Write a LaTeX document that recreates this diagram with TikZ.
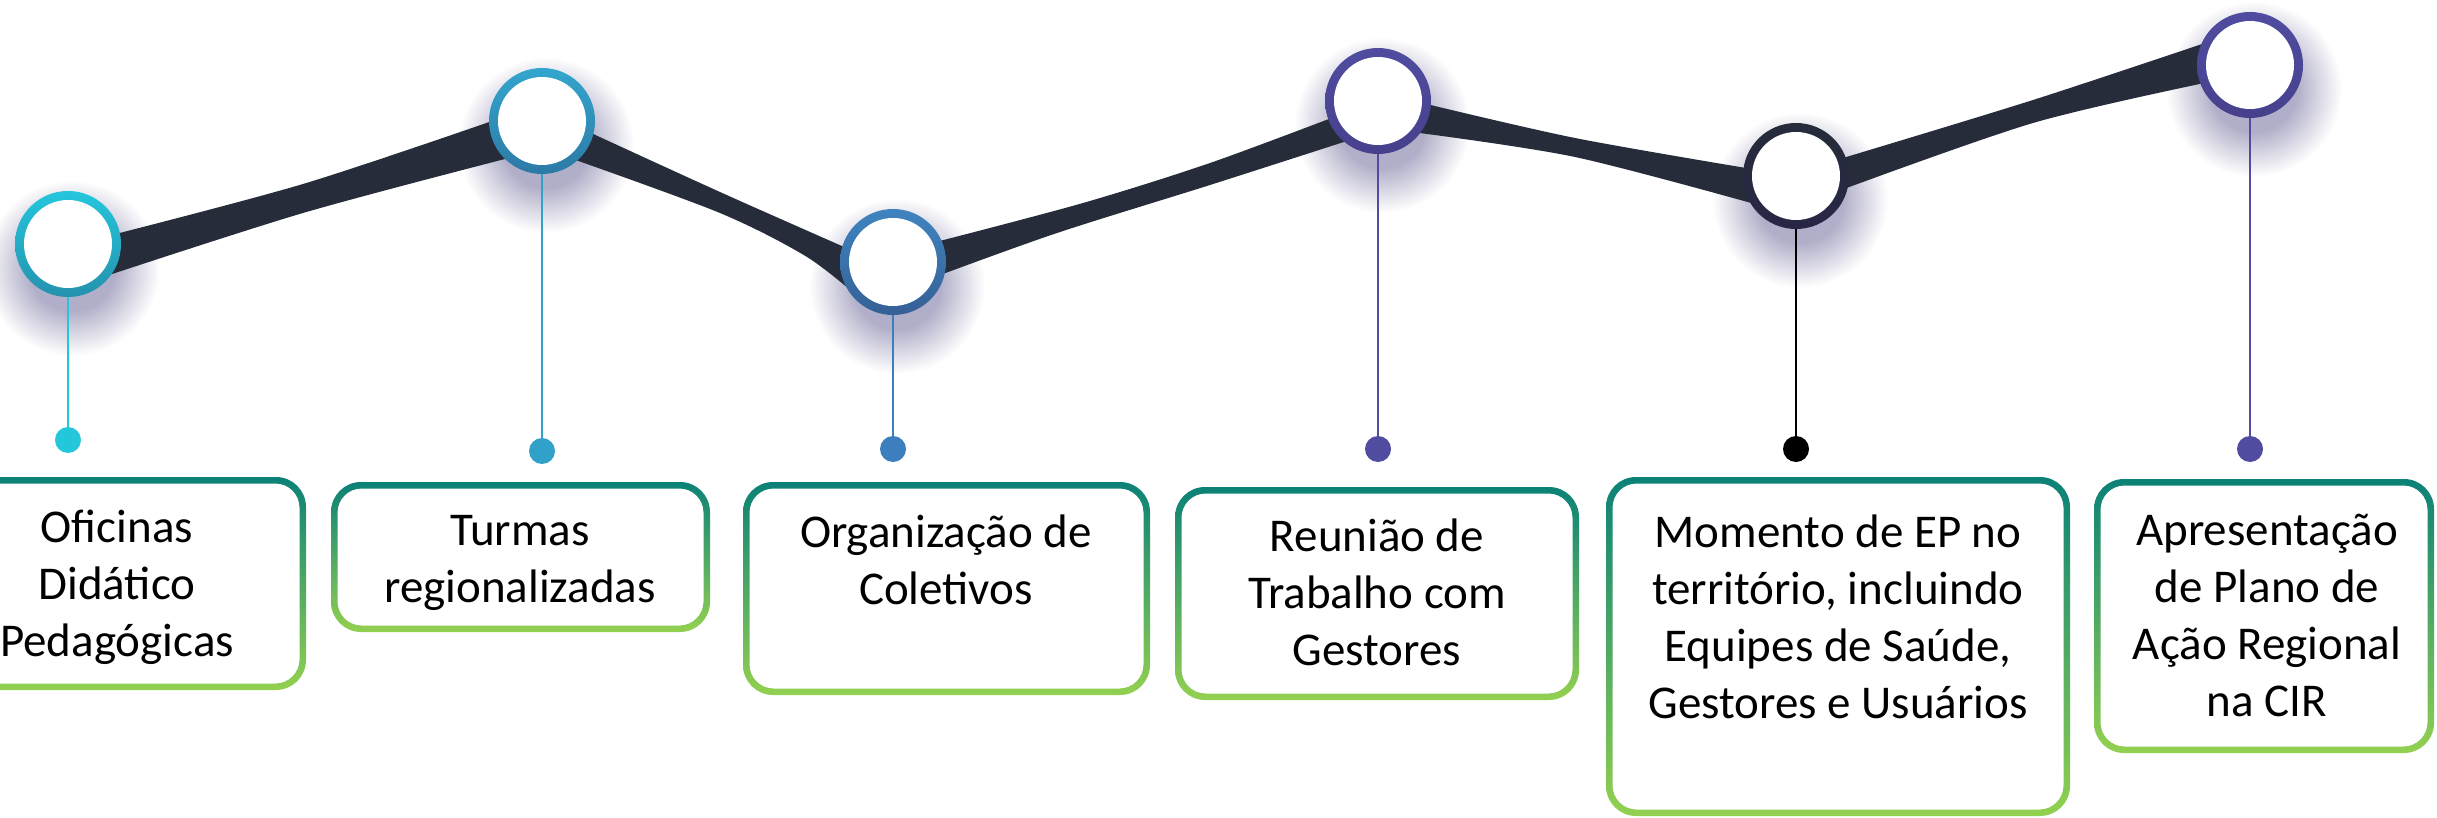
\documentclass[tikz,border=0pt]{standalone}
\usepackage{fontspec}
\setmainfont{Carlito}
\definecolor{teal1}{RGB}{11,129,119}
\definecolor{lgreen}{RGB}{146,208,80}
\definecolor{band}{RGB}{38,44,58}
\definecolor{shc}{RGB}{176,174,200}
\definecolor{c1t}{RGB}{36,198,220}\definecolor{c1b}{RGB}{37,146,174}
\definecolor{c2t}{RGB}{51,166,206}\definecolor{c2b}{RGB}{44,122,165}
\definecolor{c3t}{RGB}{63,132,191}\definecolor{c3b}{RGB}{53,96,150}
\definecolor{c4t}{RGB}{80,76,160}\definecolor{c4b}{RGB}{70,64,140}
\definecolor{c5t}{RGB}{38,44,58}\definecolor{c5b}{RGB}{40,38,70}
\definecolor{p1}{RGB}{36,198,220}
\definecolor{p2}{RGB}{49,161,202}
\definecolor{p3}{RGB}{61,126,190}
\definecolor{p4}{RGB}{80,76,160}
\definecolor{p5}{RGB}{0,0,0}
\pgfdeclareradialshading{cshadow}{\pgfpoint{0bp}{0bp}}{color(0bp)=(shc); color(12bp)=(shc); color(25bp)=(white); color(50bp)=(white)}
\tikzset{
  hub/.style={circle, minimum size=106pt, inner sep=0pt},
  pindot/.style={circle, minimum size=26pt, inner sep=0pt, fill=#1},
  pinline/.style={draw=#1, line width=2.6pt},
  lbl/.style={anchor=north, align=center, inner sep=0pt, font=\fontsize{47}{57}\selectfont},
}
\newcommand{\ringhub}[3]{%
  \shade[top color=#2, bottom color=#3] (#1.center) circle (53pt);
  \fill[white] (#1.center) circle (44pt);}
\newcommand{\gradbox}[4]{%
  \shade[top color=teal1, bottom color=lgreen, even odd rule]
    [rounded corners=30pt] (#1,#2) rectangle (#3,#4)
    [rounded corners=24pt] ($(#1,#2)+(6.5,6.5)$) rectangle ($(#3,#4)+(-6.5,-6.5)$);}
\usetikzlibrary{calc}
\begin{document}
\begin{tikzpicture}[x=1pt,y=-1pt]
\useasboundingbox (0,0) rectangle (2437,818);
\clip (0,0) rectangle (2437,818);
% shadows
\foreach \x/\y in {68/244, 542/121, 893/262, 1378/101, 1796/176, 2250/65}
  \shade[shading=cshadow] (\x+4,\y+24) circle (88pt);
% band
\fill[band] plot[smooth] coordinates {(100,238) (303,184) (498,119)}
  -- plot[smooth] coordinates {(505,159) (303,213) (100,278)} -- cycle;
\fill[band] plot[smooth] coordinates {(578,127) (720,192) (860,254)}
  -- plot[smooth] coordinates {(862,300) (807,257) (720,213) (570,158)} -- cycle;
\fill[band] plot[smooth] coordinates {(932,243) (1083,203) (1210,163) (1342,114)}
  -- plot[smooth] coordinates {(1350,140) (1210,185) (1057,233) (932,278)} -- cycle;
\fill[band] plot[smooth] coordinates {(1418,102) (1575,138) (1758,170)}
  -- plot[smooth] coordinates {(1762,206) (1575,157) (1412,132)} -- cycle;
\fill[band] plot[smooth] coordinates {(1833,161) (2033,100) (2214,40)}
  -- plot[smooth] coordinates {(2214,81) (2033,123) (1833,193)} -- cycle;
% hubs
\node[hub] (c1) at (68,244) {};
\node[hub] (c2) at (542,121) {};
\node[hub] (c3) at (893,262) {};
\node[hub] (c4) at (1378,101) {};
\node[hub] (c5) at (1796,176) {};
\node[hub] (c6) at (2250,65) {};
\ringhub{c1}{c1t}{c1b}
\ringhub{c2}{c2t}{c2b}
\ringhub{c3}{c3t}{c3b}
\ringhub{c4}{c4t}{c4b}
\ringhub{c5}{c5t}{c5b}
\ringhub{c6}{c4t}{c4b}
% pins
\node[pindot=p1] (d1) at (68,440) {};
\node[pindot=p2] (d2) at (542,451) {};
\node[pindot=p3] (d3) at (893,449) {};
\node[pindot=p4] (d4) at (1378,449) {};
\node[pindot=p5] (d5) at (1796,449) {};
\node[pindot=p4] (d6) at (2250,449) {};
\draw[pinline=p1] (c1.south) -- (d1.center);
\draw[pinline=p2] (c2.south) -- (d2.center);
\draw[pinline=p3] (c3.south) -- (d3.center);
\draw[pinline=p4] (c4.south) -- (d4.center);
\draw[pinline=p5] (c5.south) -- (d5.center);
\draw[pinline=p4] (c6.south) -- (d6.center);
% boxes
\gradbox{-72}{477}{306}{690}
\gradbox{331}{482}{710}{632}
\gradbox{743}{482}{1150}{695}
\gradbox{1175}{487}{1579}{700}
\gradbox{1606}{477}{2070}{816}
\gradbox{2094}{479}{2434}{753}
% labels
\node[lbl] (t1) at (117,502) {\strut Oficinas\\Didático\\Pedagógicas};
\node[lbl] (t2) at (520,505) {\strut Turmas\\regionalizadas};
\node[lbl] (t3) at (946,507) {\strut Organização de\\Coletivos};
\node[lbl] (t4) at (1377,511) {\strut Reunião de\\Trabalho com\\Gestores};
\node[lbl] (t5) at (1838,507) {\strut Momento de EP no\\território, incluindo\\Equipes de Saúde,\\Gestores e Usuários};
\node[lbl] (t6) at (2267,505) {\strut Apresentação\\de Plano de\\Ação Regional\\na CIR};
\end{tikzpicture}
\end{document}
